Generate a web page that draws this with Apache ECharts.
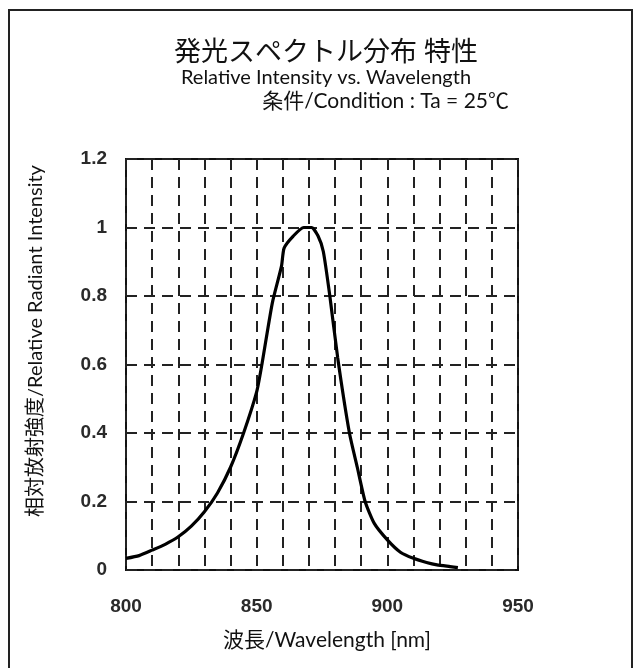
<!DOCTYPE html>
<html>
<head>
<meta charset="utf-8">
<script src="https://cdn.jsdelivr.net/npm/echarts@6/dist/echarts.min.js"></script>
<style>
html,body{margin:0;padding:0;background:#fff;}
#chart{width:640px;height:668px;}
</style>
</head>
<body>
<div id="chart"></div>
<script>
// ---- data ----
const wavelength = [800, 805, 810, 815, 820, 825, 830, 835, 840, 845, 850, 852, 856, 859.5, 860.5, 864, 868, 871, 873.5, 875.5, 878, 881, 885.5, 888.5, 891.5, 895, 900, 905, 910, 915, 919, 924, 927];
const intensity  = [0.034, 0.042, 0.058, 0.075, 0.097, 0.128, 0.17, 0.225, 0.30, 0.40, 0.52, 0.60, 0.78, 0.887, 0.94, 0.975, 1.0, 1.0, 0.975, 0.93, 0.80, 0.62, 0.40, 0.30, 0.20, 0.136, 0.088, 0.052, 0.034, 0.022, 0.015, 0.010, 0.007];
const xLabeledTicks = [800, 850, 900, 950];
const titleText = '発光スペクトル分布 特性';
const subtitleText = 'Relative Intensity vs. Wavelength';
const conditionText = '条件/Condition : Ta = 25℃';
const xAxisName = '波長/Wavelength [nm]';
const yAxisName = '相対放射強度/Relative Radiant Intensity';

const FONT = "Lato, 'Noto Sans CJK JP', sans-serif";
const TICKFONT = "'Liberation Sans', Arial, sans-serif";

const chart = echarts.init(document.getElementById('chart'));
const points = wavelength.map((w, i) => [w, intensity[i]]);

chart.setOption({
  animation: false,
  backgroundColor: '#fff',
  grid: {left: 126, right: 122, top: 159, bottom: 98, show: true, borderColor: '#111', borderWidth: 2, backgroundColor: '#fff'},
  xAxis: {
    type: 'value', min: 800, max: 950, interval: 10,
    axisLine: {show: false},
    axisTick: {show: false},
    axisLabel: {
      margin: 27, fontSize: 19, fontWeight: 'bold', color: '#2a2a2a', fontFamily: TICKFONT,
      formatter: v => xLabeledTicks.includes(Math.round(v)) ? String(Math.round(v)) : ''
    },
    splitLine: {show: true, lineStyle: {color: '#222', width: 2, type: [11, 7]}}
  },
  yAxis: {
    type: 'value', min: 0, max: 1.2, interval: 0.2,
    axisLine: {show: false},
    axisTick: {show: false},
    axisLabel: {
      margin: 19, fontSize: 19, fontWeight: 'bold', color: '#2a2a2a', fontFamily: TICKFONT,
      formatter: v => String(+(+v).toFixed(1))
    },
    splitLine: {show: true, lineStyle: {color: '#222', width: 2, type: [11, 7]}}
  },
  series: [{
    type: 'line', data: points, showSymbol: false, smooth: 0.2,
    lineStyle: {color: '#000', width: 3.2}
  }],
  graphic: [
    {type: 'rect', shape: {x: 9, y: 10, width: 623, height: 680}, style: {fill: 'none', stroke: '#222', lineWidth: 2}, z: 100},
    {type: 'text', x: 326, y: 52, style: {text: titleText, font: "27px " + FONT, fill: '#111', textAlign: 'center', textVerticalAlign: 'middle'}},
    {type: 'text', x: 326, y: 78, style: {text: subtitleText, font: "20px " + FONT, fill: '#111', textAlign: 'center', textVerticalAlign: 'middle'}},
    {type: 'text', x: 509, y: 101, style: {text: conditionText, font: "21px " + FONT, fill: '#111', textAlign: 'right', textVerticalAlign: 'middle'}},
    {type: 'text', x: 327, y: 640, style: {text: xAxisName, font: "21px " + FONT, fill: '#111', textAlign: 'center', textVerticalAlign: 'middle'}},
    {type: 'text', x: 36, y: 341, rotation: Math.PI / 2, style: {text: yAxisName, font: "20px " + FONT, fill: '#111', textAlign: 'center', textVerticalAlign: 'middle'}}
  ]
});
</script>
</body>
</html>
